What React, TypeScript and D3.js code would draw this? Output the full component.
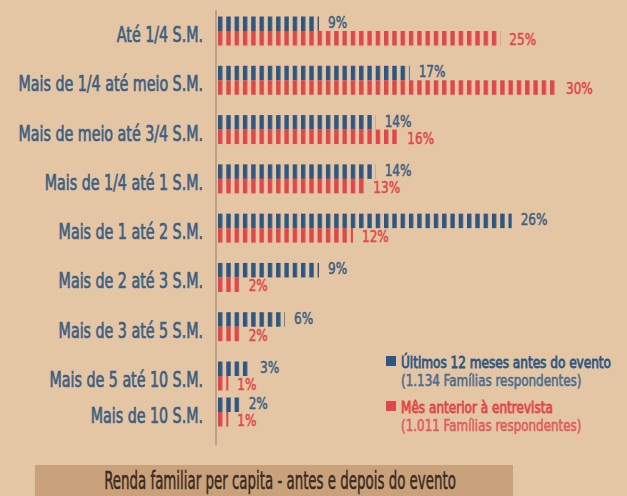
import React, { useEffect, useRef } from 'react';
import * as d3 from 'd3';

const categories = [
  'Até 1/4 S.M.',
  'Mais de 1/4 até meio S.M.',
  'Mais de meio até 3/4 S.M.',
  'Mais de 1/4 até 1 S.M.',
  'Mais de 1 até 2 S.M.',
  'Mais de 2 até 3 S.M.',
  'Mais de 3 até 5 S.M.',
  'Mais de 5 até 10 S.M.',
  'Mais de 10 S.M.',
];
const antes = [9, 17, 14, 14, 26, 9, 6, 3, 2];
const depois = [25, 30, 16, 13, 12, 2, 2, 1, 1];

const legendItems = [
  { title: 'Últimos 12 meses antes do evento', sub: '(1.134 Famílias respondentes)' },
  { title: 'Mês anterior à entrevista', sub: '(1.011 Famílias respondentes)' },
];
const chartTitle = 'Renda familiar per capita - antes e depois do evento';

const W = 627;
const H = 496;
const BG = '#e4c5a4';
const BLUE = '#2d5782';
const RED = '#e0474a';
const LABEL = '#3c5f82';
const FONT = '"DejaVu Sans Condensed", "Liberation Sans Narrow", "Roboto", sans-serif';

const App: React.FC = () => {
  const svgRef = useRef<SVGSVGElement>(null);

  useEffect(() => {
    if (!svgRef.current) return;
    const svg = d3.select(svgRef.current);
    svg.selectAll('*').remove();

    svg.append('rect').attr('width', W).attr('height', H).style('fill', BG);

    const x0 = 217;
    const x = d3.scaleLinear().domain([0, 30]).range([x0, 557]);
    // row centre (boundary between the two halves); last row sits closer
    const row = d3.scaleLinear().domain([0, 7, 8]).range([31, 376, 412]);
    const half = 14.5;
    const period = 8.3;

    // stripe patterns
    const defs = svg.append('defs');
    [['stripe-blue', BLUE], ['stripe-red', RED]].forEach(([id, color]) => {
      const p = defs.append('pattern')
        .attr('id', id)
        .attr('patternUnits', 'userSpaceOnUse')
        .attr('x', x0 + 1)
        .attr('y', 0)
        .attr('width', period)
        .attr('height', 10);
      p.append('rect').attr('width', 4.4).attr('height', 10).style('fill', color);
    });

    const condensed = (
      sel: d3.Selection<SVGGElement, unknown, null, undefined>,
      tx: number, ty: number, sx: number, text: string,
      size: number, color: string, anchor = 'start', heavy = 0.5
    ) => {
      sel.append('text')
        .attr('transform', `translate(${tx},${ty}) scale(${sx},1)`)
        .style('font-family', FONT)
        .style('font-size', `${size}px`)
        .style('fill', color)
        .style('stroke', color)
        .style('stroke-width', heavy)
        .style('text-anchor', anchor)
        .text(text);
    };

    const g = svg.append('g');

    // axis line
    g.append('line')
      .attr('x1', x0 - 1).attr('x2', x0 - 1)
      .attr('y1', 10).attr('y2', 445)
      .style('stroke', '#9c8a78')
      .style('stroke-width', 1.2);

    categories.forEach((cat, i) => {
      const cy = row(i);
      condensed(g, 203, cy + 11, 0.72, cat, 22, LABEL, 'end', 0.7);

      // blue (top half)
      const wb = x(antes[i]) - x0;
      g.append('rect')
        .attr('x', x0).attr('y', cy - half)
        .attr('width', wb).attr('height', half)
        .style('fill', 'url(#stripe-blue)');
      condensed(g, x(antes[i]) + 9, cy - 3, 0.84, `${antes[i]}%`, 16, LABEL, 'start', 0.5);

      // red (bottom half)
      const wr = x(depois[i]) - x0;
      g.append('rect')
        .attr('x', x0).attr('y', cy)
        .attr('width', wr).attr('height', half)
        .style('fill', 'url(#stripe-red)');
      condensed(g, x(depois[i]) + 9, cy + 14, 0.84, `${depois[i]}%`, 16, RED, 'start', 0.5);
    });

    // legend
    const legendColors = [BLUE, RED];
    const subColors = ['#4a6c90', '#e25a5c'];
    legendItems.forEach((item, i) => {
      const ly = 356 + i * 45;
      g.append('rect')
        .attr('x', 386).attr('y', ly)
        .attr('width', 10).attr('height', 10)
        .style('fill', legendColors[i]);
      condensed(g, 401, ly + 12, 0.84, item.title, 16, legendColors[i], 'start', 0.8);
      condensed(g, 401, ly + 30, 0.83, item.sub, 16, subColors[i], 'start', 0.55);
    });

    // title bar
    g.append('rect')
      .attr('x', 35).attr('y', 465)
      .attr('width', 478).attr('height', 40)
      .style('fill', '#c9a27c');
    condensed(g, 280, 489, 0.62, chartTitle, 24, '#3a2a20', 'middle', 0.5);
  }, []);

  return (
    <svg
      ref={svgRef}
      width={W}
      height={H}
      style={{ position: 'absolute', left: 0, top: 0, display: 'block' }}
    />
  );
};

export default App;
